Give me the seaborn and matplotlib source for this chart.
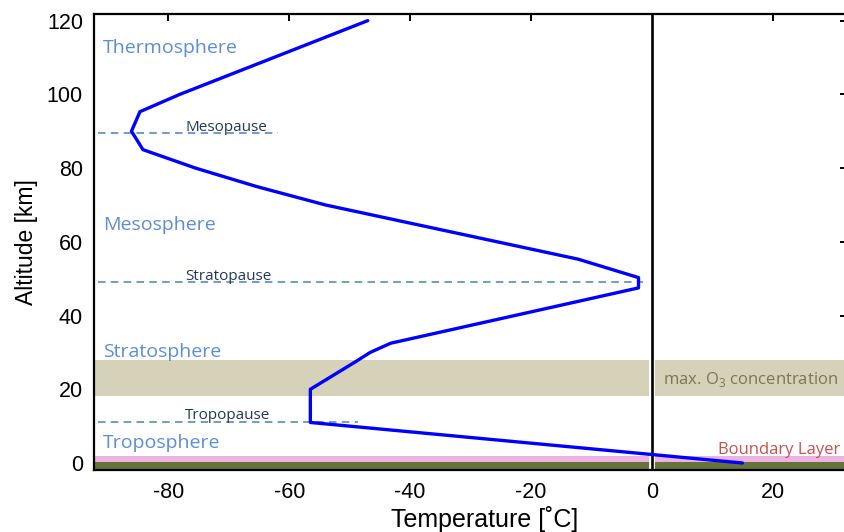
import matplotlib
matplotlib.use("Agg")
import matplotlib.pyplot as plt
import pandas as pd
import seaborn as sns

# ---- data ----
altitude_km = [0, 11, 20, 22, 27.5, 30, 32.5, 47.5, 50.3, 55.3, 70, 75, 80, 85, 90, 95.3, 100, 120]
temperature_c = [15, -56.5, -56.5, -54.5, -49, -46.6, -43.2, -2.2, -2.2, -12.2, -54, -65.4, -75.5, -84.2, -86.1, -84.7, -78.1, -47]

layer_names = ["Thermosphere", "Mesosphere", "Stratosphere", "Troposphere"]
layer_label_alt = [111.1, 63.2, 28.8, 4.0]

pause_names = ["Mesopause", "Stratopause", "Tropopause"]
pause_alt = [89.6, 49.2, 11.2]
pause_line_end = [-61.8, -1.4, -48.6]
pause_label_alt = [90.0, 49.7, 11.9]

ozone_band = (18.3, 27.9)
boundary_band = (0.2, 2.0)
ground_band = (-1.8, 0.2)

xticks = [-80, -60, -40, -20, 0, 20]
yticks = [0, 20, 40, 60, 80, 100, 120]

sns.set_style("white")
plt.rcParams["font.family"] = ["Liberation Sans", "DejaVu Sans"]
plt.rcParams["axes.unicode_minus"] = False
plt.rcParams["mathtext.fontset"] = "custom"
plt.rcParams["mathtext.rm"] = "Open Sans"
plt.rcParams["text.color"] = "black"
plt.rcParams["axes.labelcolor"] = "black"
plt.rcParams["xtick.color"] = "black"
plt.rcParams["ytick.color"] = "black"

fig = plt.figure(figsize=(8.45, 5.32), dpi=100)
ax = fig.add_axes([94 / 845, 1 - 469.5 / 532, (847 - 94) / 845, (469.5 - 14) / 532])

XMIN, XMAX = -92.3, 32.3
ax.set_xlim(XMIN, XMAX)
ax.set_ylim(-1.76, 121.8)

# bands
ax.axhspan(*ozone_band, color="#d6d1b9", lw=0, zorder=1)
ax.axhspan(*boundary_band, color="#ecb3e2", lw=0, zorder=1)
ax.axhspan(*ground_band, color="#66743a", lw=0, zorder=1)

# zero line with white halo
ax.axvline(0, color="white", lw=4.2, zorder=2)
ax.axvline(0, color="black", lw=1.9, zorder=3)

# pause dashed lines
dash_col = "#5b88c8"
label_font = "Open Sans"
for name, a, xe, la in zip(pause_names, pause_alt, pause_line_end, pause_label_alt):
    ax.plot([-91.6, xe], [a, a], ls=(0, (4.5, 3.2)), color=dash_col, lw=1.2, zorder=2)
    ax.text(-77.2, la, name, family=label_font, fontsize=11, color="#22385a",
            ha="left", va="baseline", zorder=4)

# temperature profile
df = pd.DataFrame({"Temperature": temperature_c, "Altitude": altitude_km})
sns.lineplot(data=df, x="Temperature", y="Altitude", sort=False, estimator=None,
             color="#0000ff", lw=2.4, ax=ax, zorder=5)

# layer labels
for name, a in zip(layer_names, layer_label_alt):
    ax.text(-90.8, a, name, family=label_font, fontsize=14, color="#5b8dd8",
            ha="left", va="baseline", zorder=4)

ax.text(1.8, 21.4, r"max. O$_\mathregular{3}$ concentration", family=label_font, fontsize=12,
        color="#7a7852", ha="left", va="baseline", zorder=4)
ax.text(31.2, 2.4, "Boundary Layer", family=label_font, fontsize=12,
        color="#c9504f", ha="right", va="baseline", zorder=6)

ax.set_xticks(xticks)
ax.set_yticks(yticks)
ax.set_xticklabels([str(v) for v in xticks])
ax.set_yticklabels([str(v) for v in yticks])
ax.tick_params(which="both", direction="in", top=True, right=True, length=5,
               width=1.4, labelsize=15.5, color="black", labelcolor="black")
ax.tick_params(axis="x", pad=9)
ax.tick_params(axis="y", pad=8)
for s in ax.spines.values():
    s.set_linewidth(1.6)
    s.set_color("black")
    s.set_zorder(7)

ax.set_xlabel("Temperature [˚C]", fontsize=18)
ax.set_ylabel("Altitude [km]", fontsize=16.5)
ax.xaxis.set_label_coords((485 - 94) / (847 - 94), -(519 - 469.5) / (469.5 - 14))
ax.yaxis.set_label_coords(-(94 - 27) / (847 - 94), 0.5)
ax.xaxis.label.set_va("center")
ax.yaxis.label.set_va("center")

fig.savefig("out.png", dpi=100)
